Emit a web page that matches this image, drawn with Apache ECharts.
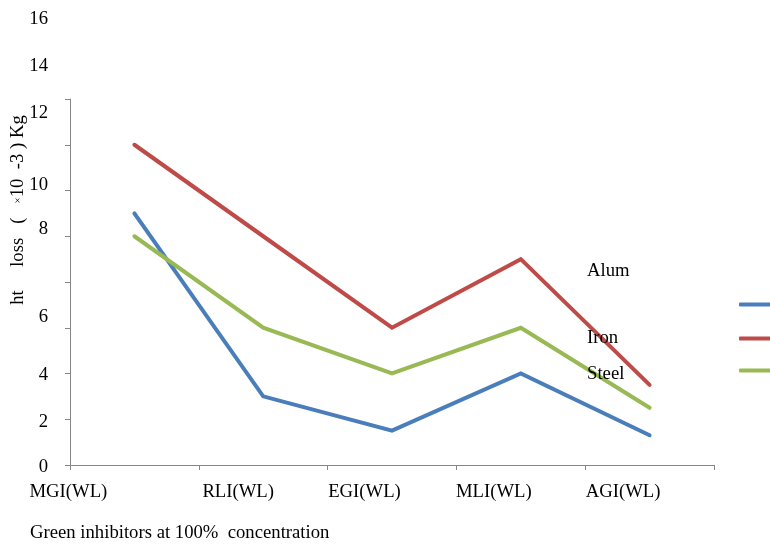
<!DOCTYPE html>
<html>
<head>
<meta charset="utf-8">
<script src="https://cdn.jsdelivr.net/npm/echarts@6/dist/echarts.min.js"></script>
<style>
  html, body { margin: 0; padding: 0; background: #ffffff; }
  #chart { width: 770px; height: 544px; }
</style>
</head>
<body>
<div id="chart"></div>
<script>
// Weight loss of three metals under each green inhibitor (WL method)
const categories = ['MGI(WL)', 'RLI(WL)', 'EGI(WL)', 'MLI(WL)', 'AGI(WL)'];
const alumLoss = [11, 3, 1.5, 4, 1.3];
const ironLoss = [14, 10, 6, 9, 3.5];
const steelLoss = [10, 6, 4, 6, 2.5];
const seriesNames = ['Alum', 'Iron', 'Steel'];
const yTickValues = [0, 2, 4, 6, 8, 10, 12, 14, 16];

// Layout: vertical nudge (px) of each y tick label, horizontal nudge of category labels
const yLabelNudge = { 0: 2, 2: 3, 4: 2, 6: -11, 8: -53, 10: -51, 12: -77, 14: -79, 16: -80 };
const xLabelPadRight = [132, 50, 55, 54, 53];

const FONT = "'Liberation Serif', 'Times New Roman', serif";
const FS = 18.7;
const AXIS_GREY = '#868686';
const COLORS = ['#4A7EBB', '#BE4B48', '#98B954'];

const yRich = {};
yTickValues.forEach(v => {
  const d = yLabelNudge[v] || 0;
  yRich['v' + v] = {
    fontFamily: FONT, fontSize: FS, color: '#000',
    padding: d < 0 ? [0, 0, -2 * d, 0] : [2 * d, 0, 0, 0]
  };
});

const xRich = {};
categories.forEach((c, i) => {
  xRich['c' + i] = {
    fontFamily: FONT, fontSize: FS, color: '#000',
    padding: [0, xLabelPadRight[i], 0, 0]
  };
});

// One legend per series so each entry can sit at its own spot
const legendSpots = [
  { name: seriesNames[0], top: 262, pad: [0, 0, 66, 0] },
  { name: seriesNames[1], top: 329, pad: [0, 0, 0, 0] },
  { name: seriesNames[2], top: 365, pad: [8, 0, 0, 0] }
];
const legends = legendSpots.map(s => ({
  data: [s.name],
  orient: 'vertical',
  left: 587,
  top: s.top,
  padding: 0,
  align: 'right',
  icon: 'roundRect',
  itemWidth: 44,
  itemHeight: 4,
  formatter: '{t|{name}}',
  textStyle: {
    fontFamily: FONT, fontSize: FS, color: '#000',
    rich: { t: { fontFamily: FONT, fontSize: FS, color: '#000', width: 147, align: 'left', padding: s.pad } }
  }
}));

const chart = echarts.init(document.getElementById('chart'), null, { renderer: 'canvas' });

chart.setOption({
  animation: false,
  backgroundColor: '#ffffff',
  color: COLORS,
  title: {
    text: 'Green inhibitors at 100%  concentration',
    left: 30,
    top: 524,
    padding: 0,
    textStyle: { fontFamily: FONT, fontSize: FS, fontWeight: 'normal', color: '#000' }
  },
  legend: legends,
  grid: { left: 70, right: 56, top: 99, bottom: 79, containLabel: false, outerBoundsMode: 'none' },
  xAxis: {
    type: 'category',
    data: categories,
    boundaryGap: true,
    axisLine: { show: true, lineStyle: { color: AXIS_GREY, width: 1 } },
    axisTick: { show: true, length: 5, alignWithLabel: false, lineStyle: { color: AXIS_GREY } },
    axisLabel: {
      interval: 0,
      margin: 18,
      hideOverlap: false,
      formatter: (val, idx) => '{c' + idx + '|' + val + '}',
      rich: xRich
    },
    splitLine: { show: false }
  },
  yAxis: {
    type: 'value',
    min: 0,
    max: 16,
    interval: 2,
    name: '{p|ht     loss   (   }{x|×}{a|10  -3 ) Kg}',
    nameLocation: 'middle',
    nameRotate: 90,
    nameGap: 42,
    nameMoveOverlap: false,
    nameTextStyle: {
      rich: {
        p: { fontFamily: FONT, fontSize: FS, color: '#000', padding: [0, 0, 0, 144] },
        x: { fontFamily: FONT, fontSize: 11, color: '#000' },
        a: { fontFamily: FONT, fontSize: FS, color: '#000' }
      }
    },
    axisLine: { show: true, lineStyle: { color: AXIS_GREY, width: 1 } },
    axisTick: { show: true, length: 5, lineStyle: { color: AXIS_GREY } },
    axisLabel: {
      margin: 22,
      hideOverlap: false,
      formatter: v => '{v' + v + '|' + v + '}',
      rich: yRich
    },
    splitLine: { show: false }
  },
  series: [
    { name: seriesNames[0], type: 'line', data: alumLoss, symbol: 'none', lineStyle: { width: 4, cap: 'round', join: 'miter' } },
    { name: seriesNames[1], type: 'line', data: ironLoss, symbol: 'none', lineStyle: { width: 4, cap: 'round', join: 'miter' } },
    { name: seriesNames[2], type: 'line', data: steelLoss, symbol: 'none', lineStyle: { width: 4, cap: 'round', join: 'miter' } }
  ]
});
</script>
</body>
</html>
